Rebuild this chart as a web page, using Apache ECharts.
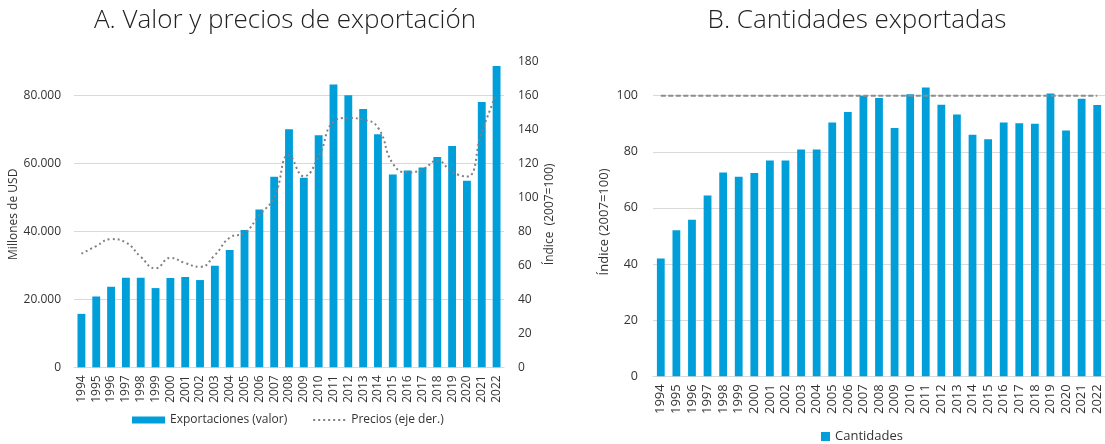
<!DOCTYPE html>
<html>
<head>
<meta charset="utf-8">
<script src="https://cdn.jsdelivr.net/npm/echarts@6/dist/echarts.min.js"></script>
<style>
  html, body { margin: 0; padding: 0; background: #fff; }
  #chart { width: 1105px; height: 444px; }
</style>
</head>
<body>
<div id="chart"></div>
<script>
// años (eje x de ambos paneles)
var years = ['1994','1995','1996','1997','1998','1999','2000','2001','2002','2003',
             '2004','2005','2006','2007','2008','2009','2010','2011','2012','2013',
             '2014','2015','2016','2017','2018','2019','2020','2021','2022'];

// A. exportaciones, millones de USD
var exportValor = [15720, 20830, 23690, 26340, 26340, 23300, 26250, 26550, 25660, 29880,
                   34500, 40400, 46400, 56050, 70000, 55760, 68230, 83190, 80030, 76000,
                   68530, 56730, 57900, 58800, 61830, 65080, 54870, 78060, 88590];

// A. precios, índice 2007=100 (eje derecho)
var precios = [66.8, 71.3, 75.4, 73.4, 65.0, 58.2, 64.4, 61.3, 59.1, 66.0,
               76.3, 79.1, 89.5, 100, 124.8, 112.4, 124.0, 144.3, 146.7, 145.7,
               141.0, 119.9, 114.6, 116.3, 121.6, 115.0, 112.2, 138.4, 161.0];

// B. cantidades, índice 2007=100
var cantidades = [42.0, 52.0, 55.8, 64.4, 72.6, 71.1, 72.4, 76.9, 76.9, 80.8,
                  80.8, 90.4, 94.2, 100, 99.2, 88.5, 100.5, 102.9, 96.8, 93.3,
                  86.1, 84.5, 90.4, 90.2, 90.0, 100.8, 87.6, 98.9, 96.7];

// línea de referencia (2007 = 100)
var baseIndex = 100;

var FONT = 'Open Sans';
var TXT = '#333333';
var BLUE = '#009fda';
var GRID = '#d9d9d9';
var DOT = '#808080';

function miles(v) {
    return String(v).replace(/\B(?=(\d{3})+(?!\d))/g, '.');
}

var option = {
    animation: false,
    textStyle: { fontFamily: FONT, color: TXT },
    title: [
        { text: 'A. Valor y precios de exportación', left: 280, top: 3, textAlign: 'center',
          textStyle: { fontFamily: FONT, fontSize: 26, fontWeight: 300, color: '#222' } },
        { text: 'B. Cantidades exportadas', left: 852, top: 3, textAlign: 'center',
          textStyle: { fontFamily: FONT, fontSize: 26, fontWeight: 300, color: '#222' } }
    ],
    legend: [
        {
            data: [
                { name: 'Exportaciones (valor)', icon: 'rect' },
                { name: 'Precios (eje der.)', itemStyle: { opacity: 0 } }
            ],
            left: 127, top: 409,
            itemWidth: 33, itemHeight: 7, itemGap: 25,
            textStyle: { fontFamily: FONT, fontSize: 12, color: TXT }
        },
        {
            data: [{ name: 'Cantidades', icon: 'rect' }],
            left: 816, top: 425,
            itemWidth: 9, itemHeight: 9,
            textStyle: { fontFamily: FONT, fontSize: 13, color: TXT }
        }
    ],
    grid: [
        { left: 74, width: 430, top: 61.3, height: 306 },
        { left: 653, width: 452, top: 67.6, height: 308.7 }
    ],
    xAxis: [
        {
            type: 'category', gridIndex: 0, data: years,
            axisLine: { lineStyle: { color: GRID } },
            axisTick: { show: false },
            axisLabel: { rotate: 90, margin: 8, fontSize: 12, color: TXT, fontFamily: FONT, interval: 0 }
        },
        {
            type: 'category', gridIndex: 1, data: years,
            axisLine: { lineStyle: { color: GRID } },
            axisTick: { show: false },
            axisLabel: { rotate: 90, margin: 8, fontSize: 13, color: TXT, fontFamily: FONT, interval: 0 }
        }
    ],
    yAxis: [
        {
            type: 'value', gridIndex: 0, min: 0, max: 90000, interval: 20000,
            name: 'Millones de USD', nameLocation: 'middle', nameGap: 52, nameRotate: 90,
            nameTextStyle: { fontSize: 12, color: TXT, fontFamily: FONT },
            axisLine: { show: false }, axisTick: { show: false },
            axisLabel: { margin: 13, fontSize: 12, color: TXT, fontFamily: FONT, showMaxLabel: false,
                         formatter: miles },
            splitLine: { show: true, showMaxLine: false, lineStyle: { color: GRID } }
        },
        {
            type: 'value', gridIndex: 0, position: 'right', min: 0, max: 180, interval: 20,
            name: 'Índice  (2007=100)', nameLocation: 'middle', nameGap: 40, nameRotate: 90,
            nameTextStyle: { fontSize: 12, color: TXT, fontFamily: FONT },
            axisLine: { show: false }, axisTick: { show: false },
            axisLabel: { margin: 14, fontSize: 12, color: TXT, fontFamily: FONT },
            splitLine: { show: false }
        },
        {
            type: 'value', gridIndex: 1, min: 0, max: 110, interval: 20,
            name: 'Índice (2007=100)', nameLocation: 'middle', nameGap: 42, nameRotate: 90,
            nameTextStyle: { fontSize: 13, color: TXT, fontFamily: FONT },
            axisLine: { show: false }, axisTick: { show: false },
            axisLabel: { margin: 15, fontSize: 12.5, color: TXT, fontFamily: FONT, showMaxLabel: false },
            splitLine: { show: true, showMaxLine: false, lineStyle: { color: GRID } }
        }
    ],
    series: [
        {
            name: 'Exportaciones (valor)', type: 'bar', xAxisIndex: 0, yAxisIndex: 0,
            data: exportValor, barWidth: '53%',
            itemStyle: { color: BLUE }
        },
        {
            name: 'Precios (eje der.)', type: 'line', xAxisIndex: 0, yAxisIndex: 1,
            data: precios, smooth: true, symbol: 'none',
            itemStyle: { color: DOT },
            lineStyle: { color: DOT, width: 2, type: [2, 3] },
            z: 5
        },
        {
            name: 'Cantidades', type: 'bar', xAxisIndex: 1, yAxisIndex: 2,
            data: cantidades, barWidth: '50%',
            itemStyle: { color: BLUE }
        },
        {
            name: 'Base', type: 'line', xAxisIndex: 1, yAxisIndex: 2,
            data: years.map(function () { return baseIndex; }),
            symbol: 'none', silent: true,
            itemStyle: { color: '#8c8c8c' },
            lineStyle: { color: '#8c8c8c', width: 2, type: [5, 2.5] },
            z: 5
        }
    ]
};

var chart = echarts.init(document.getElementById('chart'), null, { renderer: 'canvas' });
chart.setOption(option);
</script>
</body>
</html>
